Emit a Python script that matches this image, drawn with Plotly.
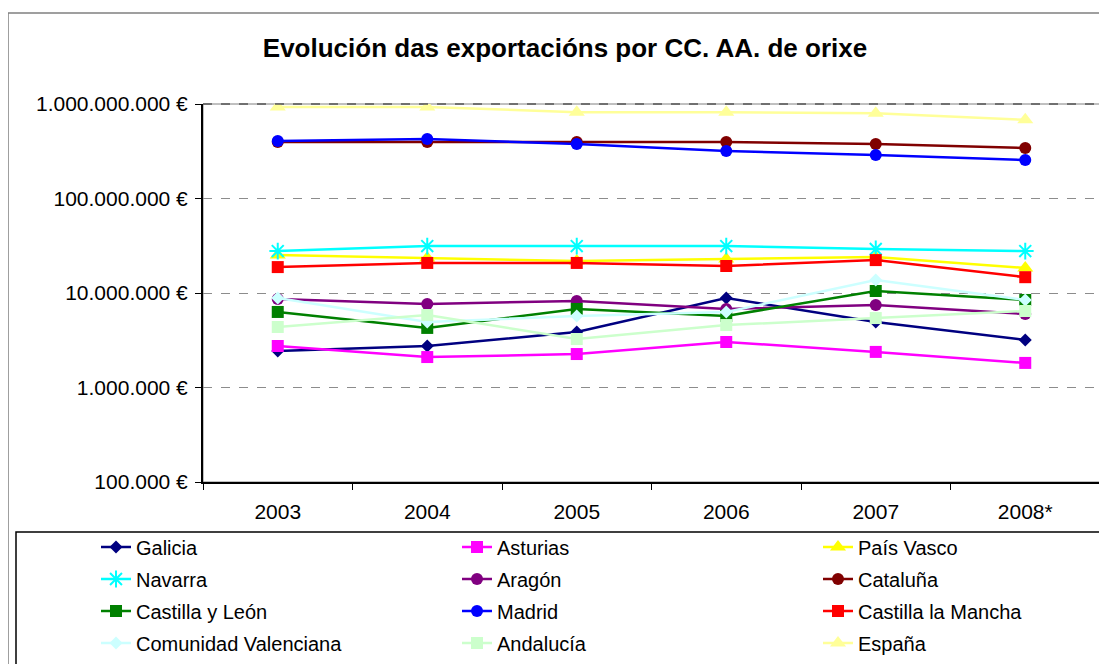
import plotly.graph_objects as go

years = ["2003", "2004", "2005", "2006", "2007", "2008*"]

galicia = [2.43e6, 2.75e6, 3.86e6, 8.85e6, 4.93e6, 3.19e6]
asturias = [2.75e6, 2.10e6, 2.26e6, 3.03e6, 2.38e6, 1.82e6]
pais_vasco = [2.52e7, 2.35e7, 2.18e7, 2.29e7, 2.40e7, 1.84e7]
navarra = [2.78e7, 3.14e7, 3.14e7, 3.14e7, 2.92e7, 2.78e7]
aragon = [8.65e6, 7.66e6, 8.23e6, 6.78e6, 7.47e6, 6.00e6]
cataluna = [3.96e8, 3.96e8, 3.96e8, 3.96e8, 3.77e8, 3.42e8]
castilla_leon = [6.30e6, 4.27e6, 6.78e6, 5.72e6, 1.05e7, 8.44e6]
madrid = [4.06e8, 4.27e8, 3.77e8, 3.18e8, 2.89e8, 2.55e8]
castilla_mancha = [1.88e7, 2.08e7, 2.08e7, 1.93e7, 2.23e7, 1.47e7]
com_valenciana = [8.85e6, 4.93e6, 5.72e6, 6.30e6, 1.37e7, 8.44e6]
andalucia = [4.37e6, 5.85e6, 3.26e6, 4.58e6, 5.43e6, 6.45e6]
espana = [9.3e8, 9.3e8, 8.2e8, 8.2e8, 8.0e8, 6.8e8]

tick_vals = [1e5, 1e6, 1e7, 1e8, 1e9]
tick_text = ["100.000 €", "1.000.000 €", "10.000.000 €", "100.000.000 €", "1.000.000.000 €"]

series = [
    ("Galicia", galicia, "#000080", "diamond", 10, "legend"),
    ("Asturias", asturias, "#FF00FF", "square", 12, "legend"),
    ("País Vasco", pais_vasco, "#FFFF00", "triangle-up", 14, "legend"),
    ("Navarra", navarra, "#00FFFF", "asterisk-open", 14, "legend2"),
    ("Aragón", aragon, "#800080", "circle", 12, "legend2"),
    ("Cataluña", cataluna, "#800000", "circle", 12, "legend2"),
    ("Castilla y León", castilla_leon, "#008000", "square", 12, "legend3"),
    ("Madrid", madrid, "#0000FF", "circle", 12, "legend3"),
    ("Castilla la Mancha", castilla_mancha, "#FF0000", "square", 12, "legend3"),
    ("Comunidad Valenciana", com_valenciana, "#CCFFFF", "diamond", 10, "legend4"),
    ("Andalucía", andalucia, "#CCFFCC", "square", 12, "legend4"),
    ("España", espana, "#FFFF99", "triangle-up", 14, "legend4"),
]

FONT = "Liberation Sans, Arial, sans-serif"

fig = go.Figure()
for name, vals, color, sym, size, lg in series:
    mk = dict(symbol=sym, size=size, color=color)
    if sym == "asterisk-open":
        mk["line"] = dict(color=color, width=2)
    fig.add_trace(go.Scatter(
        x=years, y=vals, name=name, mode="lines+markers",
        line=dict(color=color, width=2.5), marker=mk, legend=lg,
    ))

# page has an 8px body margin: figure coordinates = page coordinates - 8
OFF = 8
W, H = 1107 - OFF, 664 - OFF
L, R, T, B = 203 - OFF, 1100 - OFF, 104 - OFF, 482 - OFF

def px(x):
    return (x - OFF - L) / (R - L)

def py(y):
    return (B - (y - OFF)) / (B - T)

leg_common = dict(
    orientation="h", xanchor="left", yanchor="middle",
    entrywidth=316, entrywidthmode="pixels",
    font=dict(family=FONT, size=20, color="#000000"),
    bgcolor="rgba(0,0,0,0)", itemwidth=30, tracegroupgap=0,
)
legend_rows = [547, 579, 611, 643]

fig.update_layout(
    width=W, height=H,
    margin=dict(l=L, r=W - R, t=T, b=H - B, autoexpand=False),
    paper_bgcolor="white", plot_bgcolor="white",
    title=dict(text="<b>Evolución das exportacións por CC. AA. de orixe</b>",
               x=(565 - OFF) / W, xref="container", xanchor="center",
               y=1 - (48 - OFF) / H, yref="container", yanchor="middle",
               font=dict(family=FONT, size=26, color="#000000")),
    font=dict(family=FONT, color="#000000"),
    legend=dict(x=px(96), y=py(legend_rows[0]), **leg_common),
    legend2=dict(x=px(96), y=py(legend_rows[1]), **leg_common),
    legend3=dict(x=px(96), y=py(legend_rows[2]), **leg_common),
    legend4=dict(x=px(96), y=py(legend_rows[3]), **leg_common),
    showlegend=True,
)

fig.update_xaxes(
    type="category", tickson="boundaries", ticks="outside", ticklen=6,
    tickcolor="#000000", showline=True, linecolor="#000000", linewidth=1.5,
    showgrid=False, tickfont=dict(family=FONT, size=21, color="#000000"),
    ticklabelstandoff=10, range=[-0.5, 5.5],
)
fig.update_yaxes(
    type="log", range=[5, 9], tickvals=tick_vals, ticktext=tick_text,
    ticks="outside", ticklen=6, tickcolor="#000000",
    showline=True, linecolor="#000000", linewidth=2,
    showgrid=True, gridcolor="#8c8c8c", griddash="dash", gridwidth=1,
    tickfont=dict(family=FONT, size=21, color="#000000"),
    ticklabelstandoff=3, zeroline=False,
)

# plot-area frame, chart frame and legend frame
fig.add_shape(type="rect", xref="paper", yref="paper", x0=0, x1=1, y0=0, y1=1,
              line=dict(color="#808080", width=1), layer="below")
fig.add_shape(type="line", xref="paper", yref="paper", x0=0, x1=1, y0=1, y1=1,
              line=dict(color="#555555", width=1.5, dash="dash"))
fig.add_shape(type="rect", xref="paper", yref="paper",
              x0=px(8), x1=px(1130), y0=py(700), y1=py(13),
              line=dict(color="#808080", width=1.5))
fig.add_shape(type="rect", xref="paper", yref="paper",
              x0=px(16), x1=px(1130), y0=py(700), y1=py(532),
              line=dict(color="#000000", width=1.5))

fig.write_html("out.html")
